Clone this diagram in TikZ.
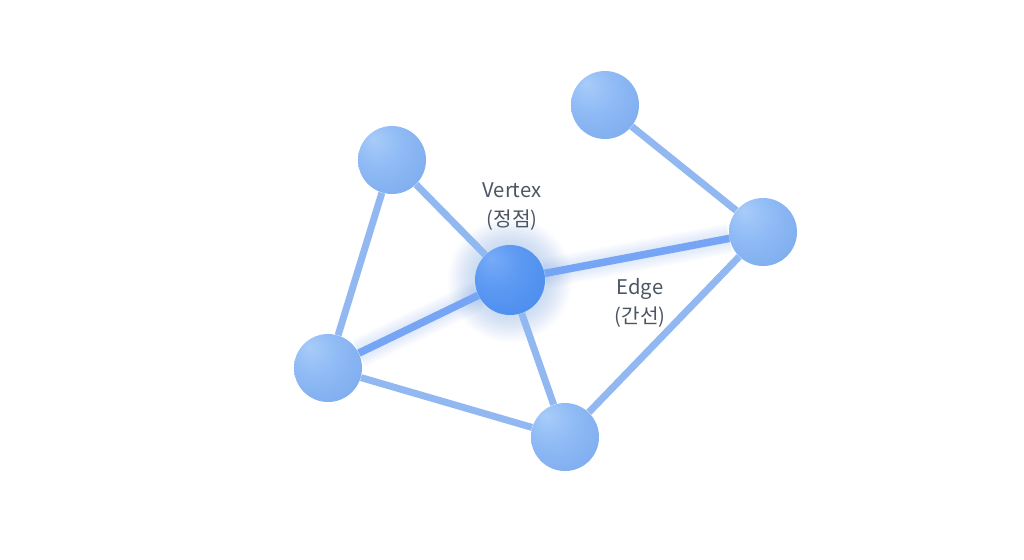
\documentclass[tikz,border=0pt]{standalone}
\usepackage{fontspec}
\setmainfont{Noto Sans CJK KR}
\usepackage{xcolor}
\definecolor{vtxblue}{HTML}{7BA9EE}
\definecolor{hubblue}{HTML}{4A8BEE}
\definecolor{edgeblue}{HTML}{92B8F1}
\definecolor{glowblue}{HTML}{5C95F2}
\definecolor{labelgray}{HTML}{4B5563}
\pgfdeclareradialshading{vtxball}{\pgfpoint{-14bp}{16bp}}{rgb(0bp)=(0.66,0.80,0.98);rgb(18bp)=(0.56,0.73,0.96);rgb(40bp)=(0.49,0.67,0.93);rgb(70bp)=(0.45,0.63,0.90)}
\pgfdeclareradialshading{hubball}{\pgfpoint{-14bp}{16bp}}{rgb(0bp)=(0.47,0.67,0.97);rgb(18bp)=(0.36,0.60,0.95);rgb(40bp)=(0.29,0.55,0.93);rgb(70bp)=(0.25,0.49,0.88)}
\tikzset{
  vtx/.style={circle,minimum size=1.36cm,inner sep=0pt,shading=vtxball},
  hub/.style={circle,minimum size=1.40cm,inner sep=0pt,shading=hubball},
  link/.style={edgeblue,line width=0.14cm},
  hotlink/.style={glowblue!85!white,line width=0.15cm},
  glow/.style={glowblue,opacity=0.03,line width=#1},
  lbl/.style={text=labelgray,align=center,font=\fontsize{11.5}{16.5}\selectfont}
}
\begin{document}
\begin{tikzpicture}[x=0.02cm,y=-0.02cm]
\useasboundingbox (0,0) rectangle (1024,559);
\fill[white] (0,0) rectangle (1024,559);
\foreach \r in {36,38,...,62}
  \fill[glowblue,opacity=0.025] (510,280) circle (\r);
\node[vtx] (top) at (392,160) {};
\node[vtx] (peak) at (605,105) {};
\node[hub] (hub) at (510,280) {};
\node[vtx] (right) at (763,232) {};
\node[vtx] (left) at (328,368) {};
\node[vtx] (bottom) at (565,437) {};
\foreach \w in {0.60cm,0.52cm,...,0.16cm}
  \draw[glow=\w] (hub) -- (right) (hub) -- (left);
\draw[link] (top) -- (hub);
\draw[link] (top) -- (left);
\draw[link] (peak) -- (right);
\draw[link] (hub) -- (bottom);
\draw[link] (left) -- (bottom);
\draw[link] (right) -- (bottom);
\draw[hotlink] (hub) -- (right);
\draw[hotlink] (hub) -- (left);
\node[lbl] (vtxlabel) at (512,207) {Vertex\\(정점)};
\node[lbl] (edgelabel) at (640,303) {Edge\\(간선)};
\end{tikzpicture}
\end{document}
